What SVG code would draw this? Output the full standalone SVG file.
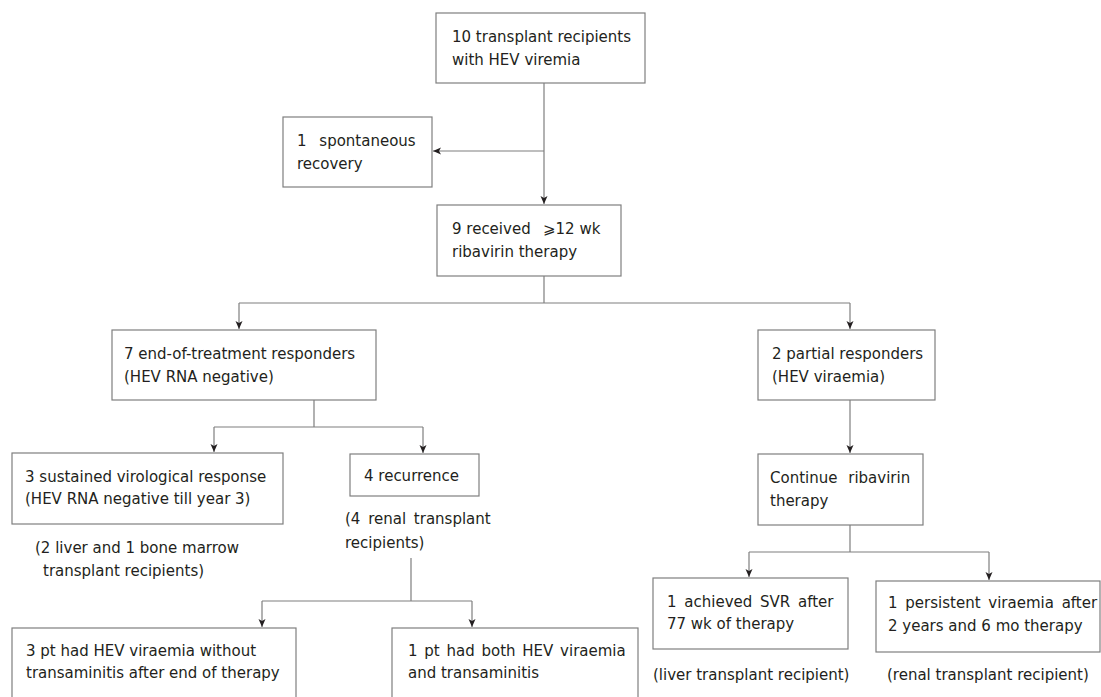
<svg xmlns="http://www.w3.org/2000/svg" width="1101" height="697" viewBox="0 0 1101 697">
<style>
.box{fill:#fff;stroke:#7f7f7f;stroke-width:1.2}
.ln{fill:none;stroke:#7f7f7f;stroke-width:1.2}
text{font-family:"DejaVu Sans",Verdana,sans-serif;font-size:15px;fill:#231f20}
</style>
<defs>
<marker id="ah" markerUnits="userSpaceOnUse" markerWidth="9" markerHeight="8" refX="8" refY="4" orient="auto">
<path d="M0,0.5 L8,4 L0,7.5 L2,4 z" fill="#231f20"/>
</marker>
</defs>
<rect width="1101" height="697" fill="#fff"/>
<g id="connectors">
<path class="ln" d="M544,83 V204" marker-end="url(#ah)"/>
<path class="ln" d="M544,151 H433" marker-end="url(#ah)"/>
<path class="ln" d="M544,276 V303 M239,303 H850"/>
<path class="ln" d="M239,303 V329" marker-end="url(#ah)"/>
<path class="ln" d="M850,303 V329" marker-end="url(#ah)"/>
<path class="ln" d="M314,400 V427 M214,427 H423"/>
<path class="ln" d="M214,427 V452" marker-end="url(#ah)"/>
<path class="ln" d="M423,427 V453" marker-end="url(#ah)"/>
<path class="ln" d="M850,400 V453" marker-end="url(#ah)"/>
<path class="ln" d="M411,558 V601 M262,601 H472"/>
<path class="ln" d="M262,601 V627" marker-end="url(#ah)"/>
<path class="ln" d="M472,601 V627" marker-end="url(#ah)"/>
<path class="ln" d="M850,525 V552 M749,552 H989"/>
<path class="ln" d="M749,552 V577" marker-end="url(#ah)"/>
<path class="ln" d="M989,552 V580" marker-end="url(#ah)"/>
</g>
<g id="n1"><rect class="box" x="436" y="13" width="209" height="70"/>
<text x="452" y="42">10 transplant recipients</text><text x="452" y="65">with HEV viremia</text></g>
<g id="n2"><rect class="box" x="283" y="117" width="149" height="70"/>
<text x="297" y="146" word-spacing="8">1 spontaneous</text><text x="297" y="169">recovery</text></g>
<g id="n3"><rect class="box" x="437" y="205" width="184" height="71"/>
<text x="452" y="234"><tspan>9 received</tspan><tspan x="543">⩾12 wk</tspan></text><text x="452" y="257">ribavirin therapy</text></g>
<g id="n4"><rect class="box" x="112" y="330" width="264" height="70"/>
<text x="124" y="359">7 end-of-treatment responders</text><text x="124" y="382">(HEV RNA negative)</text></g>
<g id="n5"><rect class="box" x="758" y="330" width="177" height="70"/>
<text x="772" y="359">2 partial responders</text><text x="772" y="382">(HEV viraemia)</text></g>
<g id="n6"><rect class="box" x="12" y="453" width="271" height="71"/>
<text x="25" y="482">3 sustained virological response</text><text x="25" y="504">(HEV RNA negative till year 3)</text>
<text x="35" y="553">(2 liver and 1 bone marrow</text><text x="43" y="576">transplant recipients)</text></g>
<g id="n7"><rect class="box" x="350" y="454" width="129" height="42"/>
<text x="364" y="481">4 recurrence</text>
<text x="345" y="524" word-spacing="3">(4 renal transplant</text><text x="345" y="548">recipients)</text></g>
<g id="n8"><rect class="box" x="758" y="454" width="165" height="71"/>
<text x="770" y="483" word-spacing="6">Continue ribavirin</text><text x="770" y="506">therapy</text></g>
<g id="n9"><rect class="box" x="12" y="628" width="284" height="80"/>
<text x="26" y="656">3 pt had HEV viraemia without</text><text x="26" y="678">transaminitis after end of therapy</text></g>
<g id="n10"><rect class="box" x="392" y="628" width="246" height="80"/>
<text x="408" y="656" word-spacing="2">1 pt had both HEV viraemia</text><text x="408" y="678">and transaminitis</text></g>
<g id="n11"><rect class="box" x="653" y="578" width="195" height="71"/>
<text x="667" y="607" word-spacing="3">1 achieved SVR after</text><text x="667" y="629">77 wk of therapy</text>
<text x="653" y="680">(liver transplant recipient)</text></g>
<g id="n12"><rect class="box" x="876" y="581" width="224" height="71"/>
<text x="888" y="608" word-spacing="3">1 persistent viraemia after</text><text x="888" y="631">2 years and 6 mo therapy</text>
<text x="887" y="680">(renal transplant recipient)</text></g>
</svg>
